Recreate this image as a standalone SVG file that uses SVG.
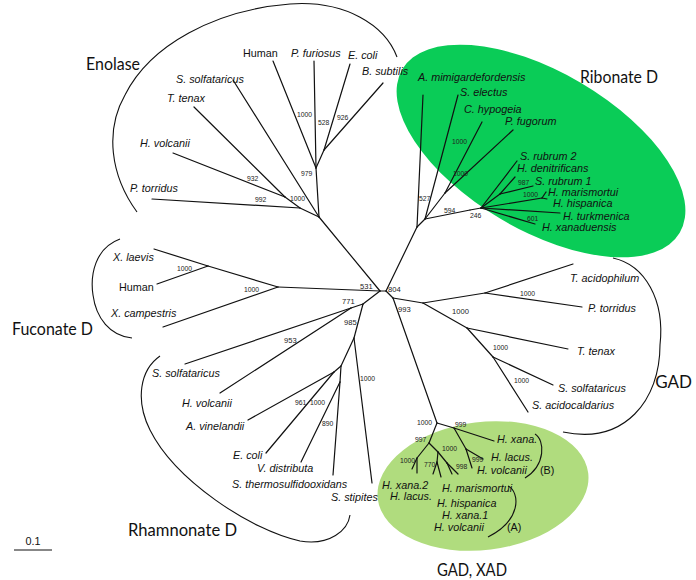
<svg xmlns="http://www.w3.org/2000/svg" width="696" height="580" viewBox="0 0 696 580">
<style>
.sp{font-family:"Liberation Sans",Arial,sans-serif;font-style:italic;font-size:10.8px;fill:#111}
.nm{font-family:"Liberation Sans",Arial,sans-serif;font-size:10.8px;fill:#111}
.bs{font-family:"Liberation Sans",Arial,sans-serif;font-size:6.8px;fill:#222}
.bc{font-family:"Liberation Sans",Arial,sans-serif;font-size:7.6px;fill:#222}
.cl{font-family:Lato,"Open Sans",sans-serif;font-size:17px;fill:#111}
.br{fill:none;stroke:#111;stroke-width:1.1}
.tr line{stroke:#111;stroke-width:1.2;stroke-linecap:round}
</style>
<rect width="696" height="580" fill="#fff"/>
<g id="ribonate-bg"><ellipse cx="541" cy="151" rx="161" ry="79" transform="rotate(30.5 541 151)" fill="#0ACC57"/></g>
<g id="gadxad-bg"><ellipse cx="483" cy="486" rx="106" ry="64" transform="rotate(-7 483 486)" fill="#B0DC7E"/></g>
<g id="connectors" class="tr">
<!-- center -->
<line x1="380" y1="291" x2="386" y2="291"/>
<line x1="380" y1="291" x2="319" y2="217"/>
<line x1="380" y1="291" x2="278" y2="287"/>
<line x1="380" y1="291" x2="363" y2="304"/>
<line x1="386" y1="291" x2="417" y2="227"/>
<line x1="386" y1="291" x2="393" y2="298"/>
<!-- enolase -->
<line x1="319" y1="217" x2="316" y2="168"/>
<line x1="319" y1="217" x2="233" y2="80"/>
<line x1="319" y1="217" x2="300" y2="208"/>
<line x1="300" y1="208" x2="152" y2="199"/>
<line x1="300" y1="208" x2="285" y2="197"/>
<line x1="285" y1="197" x2="194" y2="107"/>
<line x1="285" y1="197" x2="173" y2="153"/>
<line x1="316" y1="168" x2="273" y2="61"/>
<line x1="316" y1="168" x2="314" y2="61"/>
<line x1="316" y1="168" x2="324" y2="150"/>
<line x1="324" y1="150" x2="350" y2="64"/>
<line x1="324" y1="150" x2="383" y2="83"/>
<!-- fuconate -->
<line x1="278" y1="287" x2="163" y2="327"/>
<line x1="278" y1="287" x2="208" y2="266"/>
<line x1="208" y1="266" x2="154" y2="249"/>
<line x1="208" y1="266" x2="157" y2="284"/>
<!-- rhamnonate -->
<line x1="363" y1="304" x2="351" y2="308"/>
<line x1="351" y1="308" x2="185" y2="364"/>
<line x1="351" y1="308" x2="220" y2="393"/>
<line x1="363" y1="304" x2="354" y2="338"/>
<line x1="354" y1="338" x2="372" y2="483"/>
<line x1="354" y1="338" x2="341" y2="366"/>
<line x1="341" y1="366" x2="334" y2="372"/>
<line x1="334" y1="372" x2="248" y2="420"/>
<line x1="334" y1="372" x2="266" y2="453"/>
<line x1="341" y1="366" x2="340" y2="382"/>
<line x1="340" y1="382" x2="301" y2="462"/>
<line x1="340" y1="382" x2="333" y2="475"/>
<!-- ribonate -->
<line x1="417" y1="227" x2="423" y2="95"/>
<line x1="417" y1="227" x2="425" y2="219"/>
<line x1="425" y1="219" x2="458" y2="95"/>
<line x1="425" y1="219" x2="445" y2="193"/>
<line x1="445" y1="193" x2="482" y2="122"/>
<line x1="445" y1="193" x2="513" y2="130"/>
<line x1="425" y1="219" x2="470" y2="210"/>
<line x1="470" y1="210" x2="481" y2="208"/>
<line x1="481" y1="208" x2="517" y2="161"/>
<line x1="481" y1="208" x2="500" y2="194"/>
<line x1="500" y1="194" x2="515" y2="177"/>
<line x1="500" y1="194" x2="533" y2="186"/>
<line x1="481" y1="208" x2="542" y2="198"/>
<line x1="542" y1="198" x2="546" y2="192"/>
<line x1="542" y1="198" x2="547" y2="199"/>
<line x1="481" y1="208" x2="560" y2="213"/>
<line x1="481" y1="208" x2="535" y2="224"/>
<!-- GAD -->
<line x1="393" y1="298" x2="423" y2="303"/>
<line x1="423" y1="303" x2="485" y2="293"/>
<line x1="485" y1="293" x2="573" y2="264"/>
<line x1="485" y1="293" x2="582" y2="307"/>
<line x1="423" y1="303" x2="467" y2="328"/>
<line x1="467" y1="328" x2="568" y2="349"/>
<line x1="467" y1="328" x2="493" y2="357"/>
<line x1="493" y1="357" x2="553" y2="385"/>
<line x1="493" y1="357" x2="528" y2="412"/>
<!-- GAD, XAD -->
<line x1="393" y1="298" x2="437" y2="423"/>
<line x1="437" y1="423" x2="454" y2="428"/>
<line x1="454" y1="428" x2="494" y2="441"/>
<line x1="454" y1="428" x2="466" y2="449"/>
<line x1="466" y1="449" x2="483" y2="459"/>
<line x1="466" y1="449" x2="472" y2="468"/>
<line x1="437" y1="423" x2="429" y2="443"/>
<line x1="429" y1="443" x2="417" y2="458"/>
<line x1="417" y1="458" x2="412" y2="469"/>
<line x1="417" y1="458" x2="417" y2="473"/>
<line x1="429" y1="443" x2="438" y2="452"/>
<line x1="438" y1="452" x2="437" y2="462"/>
<line x1="437" y1="462" x2="433" y2="474"/>
<line x1="437" y1="462" x2="441" y2="477"/>
<line x1="438" y1="452" x2="447" y2="463"/>
<line x1="447" y1="463" x2="452" y2="474"/>
<line x1="447" y1="463" x2="458" y2="474"/>
</g>
<g id="enolase">
<path class="br" d="M137,212 C110,175 105,130 125,95 C150,45 215,10 290,4 C345,0 385,25 397,57"/>
<text class="cl" x="86" y="70" textLength="54" lengthAdjust="spacingAndGlyphs">Enolase</text>
<text class="sp" x="176" y="83">S. solfataricus</text>
<text class="sp" x="167" y="102">T. tenax</text>
<text class="sp" x="140" y="147">H. volcanii</text>
<text class="sp" x="130" y="192">P. torridus</text>
<text class="nm" x="243" y="57">Human</text>
<text class="sp" x="291" y="57">P. furiosus</text>
<text class="sp" x="348" y="59">E. coli</text>
<text class="sp" x="362" y="75">B. subtilis</text>
<text class="bs" x="297" y="116.5">1000</text>
<text class="bs" x="318" y="124.5">528</text>
<text class="bs" x="337" y="119.5">926</text>
<text class="bs" x="301" y="175.5">979</text>
<text class="bs" x="247" y="180.5">932</text>
<text class="bs" x="255" y="201.5">992</text>
<text class="bs" x="290" y="200.5">1000</text>
</g>
<g id="ribonate">
<text class="cl" x="580" y="83" textLength="78" lengthAdjust="spacingAndGlyphs">Ribonate D</text>
<text class="sp" x="418" y="81">A. mimigardefordensis</text>
<text class="sp" x="460" y="96">S. electus</text>
<text class="sp" x="464" y="113">C. hypogeia</text>
<text class="sp" x="505" y="125">P. fugorum</text>
<text class="sp" x="520" y="160">S. rubrum 2</text>
<text class="sp" x="517" y="172">H. denitrificans</text>
<text class="sp" x="535" y="184.5">S. rubrum 1</text>
<text class="sp" x="548" y="195.5">H. marismortui</text>
<text class="sp" x="553" y="207">H. hispanica</text>
<text class="sp" x="563" y="220">H. turkmenica</text>
<text class="sp" x="542" y="231">H. xanaduensis</text>
<text class="bs" x="452" y="143.5">1000</text>
<text class="bs" x="453" y="175.5">1000</text>
<text class="bs" x="419" y="200.5">527</text>
<text class="bs" x="444" y="212.5">594</text>
<text class="bs" x="470" y="217.5">246</text>
<text class="bs" x="518" y="184.5">987</text>
<text class="bs" x="523" y="196.5">1000</text>
<text class="bs" x="527" y="220.5">601</text>
</g>
<g id="fuconate">
<path class="br" d="M120,239 C95,248 90,275 93,295 C96,318 110,336 132,338"/>
<text class="cl" x="12" y="335" textLength="81" lengthAdjust="spacingAndGlyphs">Fuconate D</text>
<text class="sp" x="113" y="261">X. laevis</text>
<text class="nm" x="119" y="291">Human</text>
<text class="sp" x="111" y="317">X. campestris</text>
<text class="bs" x="177" y="270.5">1000</text>
<text class="bs" x="244" y="291.5">1000</text>
</g>
<g id="center">
<text class="bc" x="360" y="288.5">531</text>
<text class="bc" x="388" y="291.5">804</text>
<text class="bc" x="342" y="303.5">771</text>
<text class="bc" x="344" y="324.5">985</text>
<text class="bc" x="284" y="342.5">953</text>
<text class="bc" x="398" y="311.5">993</text>
<text class="bc" x="452" y="313.5">1000</text>
</g>
<g id="rhamnonate">
<path class="br" d="M160,356 C140,370 135,400 150,430 C175,480 250,530 300,541 C330,546 348,530 350,515"/>
<text class="cl" x="128" y="536" textLength="109" lengthAdjust="spacingAndGlyphs">Rhamnonate D</text>
<text class="sp" x="152" y="377">S. solfataricus</text>
<text class="sp" x="182" y="407">H. volcanii</text>
<text class="sp" x="186" y="430">A. vinelandii</text>
<text class="sp" x="233" y="459">E. coli</text>
<text class="sp" x="257" y="472">V. distributa</text>
<text class="sp" x="232" y="488">S. thermosulfidooxidans</text>
<text class="sp" x="331" y="501">S. stipites</text>
<text class="bs" x="295" y="404.5">961</text>
<text class="bs" x="310" y="404.5">1000</text>
<text class="bs" x="322" y="425.5">890</text>
<text class="bs" x="360" y="380.5">1000</text>
</g>
<g id="gad">
<path class="br" d="M613,258 C645,265 665,300 660,345 C660,400 625,445 563,432"/>
<text class="cl" x="692" y="388" font-size="15" text-anchor="end">GAD</text>
<text class="sp" x="570" y="282">T. acidophilum</text>
<text class="sp" x="588" y="312">P. torridus</text>
<text class="sp" x="577" y="355">T. tenax</text>
<text class="sp" x="558" y="391.5">S. solfataricus</text>
<text class="sp" x="532" y="409">S. acidocaldarius</text>
<text class="bs" x="520" y="296">1000</text>
<text class="bs" x="493" y="349.5">1000</text>
<text class="bs" x="514" y="382.5">1000</text>
</g>
<g id="gadxad">
<path class="br" d="M535,434 C545,440 546,465 525,478"/>
<path class="br" d="M508,486 C520,492 522,520 488,537"/>
<text class="cl" x="437" y="576" textLength="70" lengthAdjust="spacingAndGlyphs">GAD, XAD</text>
<text class="sp" x="497" y="443">H. xana.</text>
<text class="sp" x="491" y="461">H. lacus.</text>
<text class="sp" x="477" y="474">H. volcanii</text>
<text class="nm" x="540" y="474">(B)</text>
<text class="sp" x="382" y="489">H. xana.2</text>
<text class="sp" x="390" y="500">H. lacus.</text>
<text class="sp" x="442" y="492">H. marismortui</text>
<text class="sp" x="437" y="507">H. hispanica</text>
<text class="sp" x="442" y="519">H. xana.1</text>
<text class="sp" x="434" y="531">H. volcanii</text>
<text class="nm" x="507" y="531">(A)</text>
<text class="bs" x="417" y="424.5">1000</text>
<text class="bs" x="455" y="426.5">999</text>
<text class="bs" x="415" y="441.5">997</text>
<text class="bs" x="400" y="462.5">1000</text>
<text class="bs" x="442" y="450.5">1000</text>
<text class="bs" x="424" y="466.5">770</text>
<text class="bs" x="456" y="468.5">998</text>
<text class="bs" x="472" y="461.5">999</text>
</g>
<g id="scale">
<line x1="14" y1="550" x2="52" y2="550" stroke="#111" stroke-width="1.1"/>
<text class="nm" x="33" y="545" text-anchor="middle" font-size="9">0.1</text>
</g>
</svg>
